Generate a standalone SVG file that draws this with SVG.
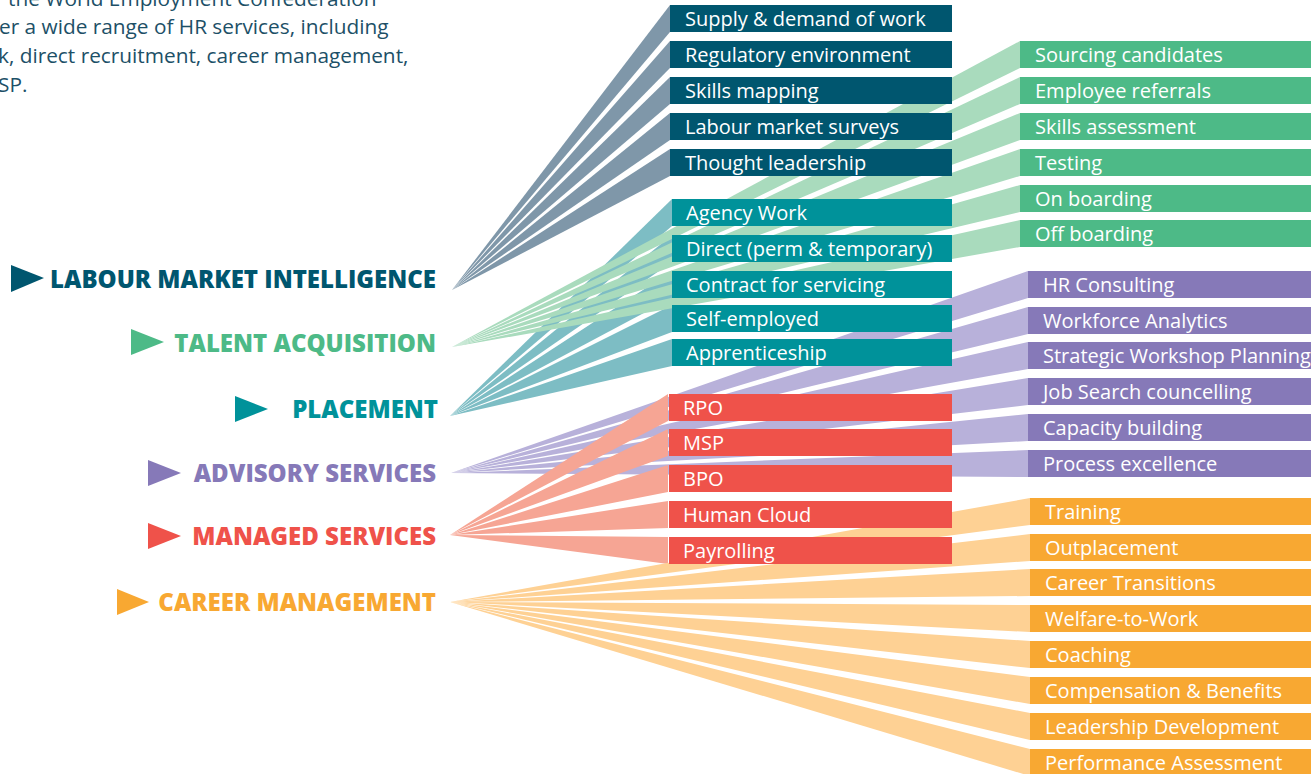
<svg xmlns="http://www.w3.org/2000/svg" width="1311" height="774" viewBox="0 0 1311 774">
<style>
.t{font-family:"Open Sans","Liberation Sans",sans-serif;font-size:20px;fill:#fff}
.p{font-family:"Open Sans","Liberation Sans",sans-serif;font-size:20.8px;fill:#1d5067}
.c{font-family:"Open Sans","Liberation Sans",sans-serif;font-weight:800;font-size:24px;text-anchor:end;letter-spacing:0}
.lmi{fill:#00566f}.tal{fill:#4dba87}.pla{fill:#00929a}.adv{fill:#8679b8}.man{fill:#ef524a}.car{fill:#f8a832}
.flmi{fill:#7f97a9}.ftal{fill:#a9dbbd}.fpla{fill:#7dbdc4}.fadv{fill:#b8b1da}.fman{fill:#f6a594}.fcar{fill:#fed194}
</style>
<rect width="1311" height="774" fill="#fff"/>
<g id="intro">
<text class="p" x="8" y="6">the World Employment Confederation</text>
<text class="p" x="-1" y="34">er a wide range of HR services, including</text>
<text class="p" x="-2" y="63">k, direct recruitment, career management,</text>
<text class="p" x="-2" y="92">SP.</text>
</g>
<g id="connectors">
<g class="flmi">
<polygon points="452,290 670,5 670,32"/>
<polygon points="452,290 670,41 670,68"/>
<polygon points="452,290 670,77 670,104"/>
<polygon points="452,290 670,113 670,140"/>
<polygon points="452,290 670,149 670,176"/>
</g>
<g class="fpla">
<polygon points="450,416 672,199 672,226"/>
<polygon points="450,416 672,235 672,262"/>
<polygon points="450,416 672,271 672,298"/>
<polygon points="450,416 672,305 672,332"/>
<polygon points="450,416 672,339 672,366"/>
</g>
<g class="ftal">
<polygon points="452,347 1020,41 1020,68"/>
<polygon points="452,347 1020,77 1020,104"/>
<polygon points="452,347 1020,113 1020,140"/>
<polygon points="452,347 1020,149 1020,176"/>
<polygon points="452,347 1020,185 1020,212"/>
<polygon points="452,347 1020,220 1020,247"/>
</g>
<g class="fadv">
<polygon points="451,473 1028,271 1028,298"/>
<polygon points="451,473 1028,307 1028,334"/>
<polygon points="451,473 1028,342 1028,369"/>
<polygon points="451,473 1028,378 1028,405"/>
<polygon points="451,473 1028,414 1028,441"/>
<polygon points="451,473 1028,450 1028,477"/>
</g>
<g class="fman">
<polygon points="450,535 668,394 668,421"/>
<polygon points="450,535 668,429 668,456"/>
<polygon points="450,535 668,465 668,492"/>
<polygon points="450,535 668,501 668,528"/>
<polygon points="450,535 668,537 668,564"/>
</g>
<g class="fcar">
<polygon points="450,602 1030,498 1030,525"/>
<polygon points="450,602 1030,534 1030,561"/>
<polygon points="450,602 1030,569 1030,596"/>
<polygon points="450,602 1030,605 1030,632"/>
<polygon points="450,602 1030,641 1030,668"/>
<polygon points="450,602 1030,677 1030,704"/>
<polygon points="450,602 1030,713 1030,740"/>
<polygon points="450,602 1030,749 1030,776"/>
</g>
</g>
<g id="cat-lmi"><polygon class="lmi" points="11,265 44,278 11,292"/><text class="c lmi" x="436" y="288">LABOUR MARKET INTELLIGENCE</text></g>
<g id="cat-talent"><polygon class="tal" points="131,329 164,342 131,355"/><text class="c tal" x="436" y="352">TALENT ACQUISITION</text></g>
<g id="cat-placement"><polygon class="pla" points="235,396 268,409 235,422"/><text class="c pla" x="438" y="418">PLACEMENT</text></g>
<g id="cat-advisory"><polygon class="adv" points="148,460 181,473 148,486"/><text class="c adv" x="436" y="482">ADVISORY SERVICES</text></g>
<g id="cat-managed"><polygon class="man" points="148,523 181,536 148,549"/><text class="c man" x="436" y="545">MANAGED SERVICES</text></g>
<g id="cat-career"><polygon class="car" points="117,589 149,602 117,615"/><text class="c car" x="436" y="611">CAREER MANAGEMENT</text></g>

<g id="lmi-1"><rect class="lmi" x="670" y="5" width="282" height="27"/><text class="t" x="685" y="26">Supply &amp; demand of work</text></g>
<g id="lmi-2"><rect class="lmi" x="670" y="41" width="282" height="27"/><text class="t" x="685" y="62">Regulatory environment</text></g>
<g id="lmi-3"><rect class="lmi" x="670" y="77" width="282" height="27"/><text class="t" x="685" y="98">Skills mapping</text></g>
<g id="lmi-4"><rect class="lmi" x="670" y="113" width="282" height="27"/><text class="t" x="685" y="134">Labour market surveys</text></g>
<g id="lmi-5"><rect class="lmi" x="670" y="149" width="282" height="27"/><text class="t" x="685" y="170">Thought leadership</text></g>

<g id="tal-1"><rect class="tal" x="1020" y="41" width="291" height="27"/><text class="t" x="1035" y="62">Sourcing candidates</text></g>
<g id="tal-2"><rect class="tal" x="1020" y="77" width="291" height="27"/><text class="t" x="1035" y="98">Employee referrals</text></g>
<g id="tal-3"><rect class="tal" x="1020" y="113" width="291" height="27"/><text class="t" x="1035" y="134">Skills assessment</text></g>
<g id="tal-4"><rect class="tal" x="1020" y="149" width="291" height="27"/><text class="t" x="1035" y="170">Testing</text></g>
<g id="tal-5"><rect class="tal" x="1020" y="185" width="291" height="27"/><text class="t" x="1035" y="206">On boarding</text></g>
<g id="tal-6"><rect class="tal" x="1020" y="220" width="291" height="27"/><text class="t" x="1035" y="241">Off boarding</text></g>

<g id="pla-1"><rect class="pla" x="672" y="199" width="280" height="27"/><text class="t" x="686" y="220">Agency Work</text></g>
<g id="pla-2"><rect class="pla" x="672" y="235" width="280" height="27"/><text class="t" x="686" y="256">Direct (perm &amp; temporary)</text></g>
<g id="pla-3"><rect class="pla" x="672" y="271" width="280" height="27"/><text class="t" x="686" y="292">Contract for servicing</text></g>
<g id="pla-4"><rect class="pla" x="672" y="305" width="280" height="27"/><text class="t" x="686" y="326">Self-employed</text></g>
<g id="pla-5"><rect class="pla" x="672" y="339" width="280" height="27"/><text class="t" x="686" y="360">Apprenticeship</text></g>

<g id="adv-1"><rect class="adv" x="1028" y="271" width="283" height="27"/><text class="t" x="1043" y="292">HR Consulting</text></g>
<g id="adv-2"><rect class="adv" x="1028" y="307" width="283" height="27"/><text class="t" x="1043" y="328">Workforce Analytics</text></g>
<g id="adv-3"><rect class="adv" x="1028" y="342" width="283" height="27"/><text class="t" x="1043" y="363">Strategic Workshop Planning</text></g>
<g id="adv-4"><rect class="adv" x="1028" y="378" width="283" height="27"/><text class="t" x="1043" y="399">Job Search councelling</text></g>
<g id="adv-5"><rect class="adv" x="1028" y="414" width="283" height="27"/><text class="t" x="1043" y="435">Capacity building</text></g>
<g id="adv-6"><rect class="adv" x="1028" y="450" width="283" height="27"/><text class="t" x="1043" y="471">Process excellence</text></g>

<g id="man-1"><rect class="man" x="669" y="394" width="283" height="27"/><text class="t" x="683" y="415">RPO</text></g>
<g id="man-2"><rect class="man" x="669" y="429" width="283" height="27"/><text class="t" x="683" y="450">MSP</text></g>
<g id="man-3"><rect class="man" x="669" y="465" width="283" height="27"/><text class="t" x="683" y="486">BPO</text></g>
<g id="man-4"><rect class="man" x="669" y="501" width="283" height="27"/><text class="t" x="683" y="522">Human Cloud</text></g>
<g id="man-5"><rect class="man" x="669" y="537" width="283" height="27"/><text class="t" x="683" y="558">Payrolling</text></g>

<g id="car-1"><rect class="car" x="1030" y="498" width="281" height="27"/><text class="t" x="1045" y="519">Training</text></g>
<g id="car-2"><rect class="car" x="1030" y="534" width="281" height="27"/><text class="t" x="1045" y="555">Outplacement</text></g>
<g id="car-3"><rect class="car" x="1030" y="569" width="281" height="27"/><text class="t" x="1045" y="590">Career Transitions</text></g>
<g id="car-4"><rect class="car" x="1030" y="605" width="281" height="27"/><text class="t" x="1045" y="626">Welfare-to-Work</text></g>
<g id="car-5"><rect class="car" x="1030" y="641" width="281" height="27"/><text class="t" x="1045" y="662">Coaching</text></g>
<g id="car-6"><rect class="car" x="1030" y="677" width="281" height="27"/><text class="t" x="1045" y="698">Compensation &amp; Benefits</text></g>
<g id="car-7"><rect class="car" x="1030" y="713" width="281" height="27"/><text class="t" x="1045" y="734">Leadership Development</text></g>
<g id="car-8"><rect class="car" x="1030" y="749" width="281" height="27"/><text class="t" x="1045" y="770">Performance Assessment</text></g>
</svg>
